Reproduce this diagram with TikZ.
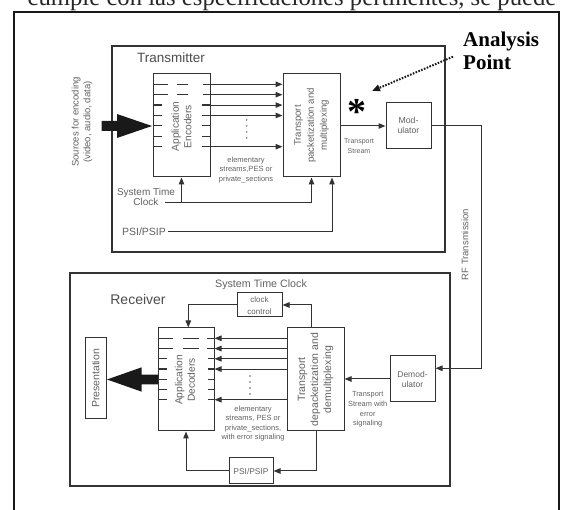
\documentclass[tikz,border=0pt]{standalone}
\usepackage{fontspec}
\setmainfont{Liberation Sans}
\newfontfamily\serifont{Liberation Serif}
\usetikzlibrary{arrows.meta}
\newcommand\fsz[2]{\fontsize{#1}{#2}\selectfont}
\definecolor{linec}{gray}{0.2}
\definecolor{txtc}{gray}{0.38}
\definecolor{framec}{gray}{0.1}
\tikzset{
 box/.style={draw=linec, line width=1pt, inner sep=0pt},
 grp/.style={draw=linec, line width=1.4pt, inner sep=0pt},
 lbl/.style={text=txtc, inner sep=0pt, align=center},
 arr/.style={draw=linec, line width=1pt, -{Triangle[length=7pt,width=5.5pt]}},
 conn/.style={draw=linec, line width=1pt},
 tickln/.style={draw=linec, line width=1.2pt}
}
\begin{document}
\begin{tikzpicture}[x=1pt,y=-1pt]
\useasboundingbox (0,0) rectangle (566,510);
\clip (0,0) rectangle (566,510);
% clipped top line of page text
\node[anchor=base, font=\serifont\fsz{24.7}{26}, text=black!85, inner sep=0pt] (toptext) at (292,5.5) {cumple con las especificaciones pertinentes, se puede};
% outer frame
\draw[framec, line width=2.5pt] (14,520) -- (14,12) -- (559,12) -- (559,520);

% ---------- Transmitter ----------
\node[grp, minimum width=333pt, minimum height=206pt] (tx) at (278.5,149) {};
\node[lbl, text=black!70, font=\fsz{13.5}{15}] (txl) at (171,58) {Transmitter};

\node[box, minimum width=57pt, minimum height=103pt] (enc) at (181.5,125.5) {};
\node[lbl, rotate=90, font=\fsz{10.2}{12.3}] (encl) at (181.5,126.5) {Application\\Encoders};
\node[box, minimum width=57pt, minimum height=103pt] (mux) at (311.5,125.5) {};
\node[lbl, rotate=90, font=\fsz{9.6}{13}] (muxl) at (311.5,125.5) {Transport\\packetization and\\multiplexing};
\node[box, minimum width=45pt, minimum height=46pt] (mod) at (408.5,126) {};
\node[lbl, font=\fsz{8.7}{10.7}] (modl) at (408.5,125.5) {Mod-\\ulator};

\node[lbl, rotate=90, font=\fsz{9.5}{11.7}] (src) at (82,122) {Sources for encoding\\(video, audio, data)};
\fill[framec] (101.5,121) -- (117,121) -- (117,114) -- (152,126) -- (117,138) -- (117,131) -- (101.5,131) -- cycle;

\foreach \y in {84.3,94.7}{\draw[tickln] (153,\y) -- (168,\y) (177,\y) -- (188,\y) (203,\y) -- (210,\y);}
\foreach \y in {105.1,115.5,125.9,136.3,146.7}{\draw[tickln] (153,\y) -- (162,\y) (202,\y) -- (210,\y);}
\foreach \y in {84.3,94.7,105.1,115.5,146.7}{\draw[arr] (enc.east |- 0,\y) -- (mux.west |- 0,\y);}
\foreach \y in {120,126,132,138}{\fill[txtc] (246.7,\y) circle (0.8pt);}
\node[lbl, font=\fsz{7.5}{9.6}] (esl) at (246,169.7) {elementary\\streams,PES or\\private\_sections};

\node[lbl, font=\fsz{10}{10}] (stc) at (146,197) {System Time\\Clock};
\coordinate (stcA) at (165,202.3);
\draw[arr] (stcA) -| (mux.south);
\draw[arr] (enc.south |- stcA) -- (enc.south);
\node[lbl, font=\fsz{10.5}{12}] (psil) at (144,231.7) {PSI/PSIP};
\coordinate (psiA) at (168,231.7);
\draw[arr] (psiA) -| ([xshift=20.5pt]mux.south);

\draw[arr] (mux.east |- mod.west) -- (mod.west);
\node[lbl, font=\fsz{7}{10}] (tsl) at (359,145.7) {Transport\\Stream};

% Analysis point
\node[anchor=base west, inner sep=0pt, font=\serifont\bfseries\fsz{21}{23}] (ap1) at (463,46.7) {Analysis};
\node[anchor=base west, inner sep=0pt, font=\serifont\bfseries\fsz{21}{23}] (ap2) at (463,69.3) {Point};
\coordinate (apS) at (453,56.7);
\coordinate (apT) at (372,91);
\draw[framec, line width=2pt, dash pattern=on 1.6pt off 1.4pt, -{Triangle[length=8pt,width=6.5pt]}] (apS) -- (apT);
\node[anchor=base, inner sep=0pt, font=\serifont\bfseries\fsz{38}{40}] (star) at (356.7,124.5) {*};

% RF link
\coordinate (rf1) at (481.7,126);
\coordinate (rf2) at (481.7,368.3);
\node[lbl, rotate=90, font=\fsz{9.5}{11}] (rfl) at (465,244.5) {RF Transmission};

% ---------- Receiver ----------
\node[grp, minimum width=380pt, minimum height=213pt] (rx) at (260,379.5) {};
\node[lbl, text=black!70, font=\fsz{14}{15}] (rxl) at (138,299.3) {Receiver};
\node[lbl, font=\fsz{10.7}{12}] (stc2) at (261,285) {System Time Clock};

\node[box, minimum width=45pt, minimum height=24pt] (cc) at (259.5,305) {};
\node[lbl, font=\fsz{8}{11.7}] (ccl) at (259.5,305.5) {clock\\control};
\node[box, minimum width=56pt, minimum height=103pt] (dec) at (186,379.5) {};
\node[lbl, rotate=90, font=\fsz{10.2}{12.3}] (decl) at (185,380) {Application\\Decoders};
\node[box, minimum width=57pt, minimum height=103pt] (demux) at (315.5,379.5) {};
\node[lbl, rotate=90, font=\fsz{10.5}{13}] (demuxl) at (315.5,379.5) {Transport\\depacketization and\\demultiplexing};
\node[box, minimum width=45pt, minimum height=46pt] (demod) at (412.5,379) {};
\node[lbl, font=\fsz{8.5}{10.3}] (demodl) at (412.5,379.2) {Demod-\\ulator};
\node[box, minimum width=44pt, minimum height=26pt] (psi) at (251,471) {};
\node[lbl, font=\fsz{8.4}{10}] (psibl) at (251,471) {PSI/PSIP};
\node[box, minimum width=21pt, minimum height=81pt] (pres) at (95.5,378.5) {};
\node[lbl, rotate=90, font=\fsz{10.5}{12}] (presl) at (95.5,378.5) {Presentation};

\fill[framec] (158,374.7) -- (141.7,374.7) -- (141.7,367.3) -- (107,379.5) -- (141.7,391.7) -- (141.7,384.3) -- (158,384.3) -- cycle;

\foreach \y in {338.3,348.6}{\draw[tickln] (158,\y) -- (173,\y) (183,\y) -- (199,\y) (207,\y) -- (214,\y);}
\foreach \y in {358.8,369.1,379.3,389.5,399.7}{\draw[tickln] (158,\y) -- (167,\y) (208,\y) -- (214,\y);}
\foreach \y in {338.3,348.6,358.8,369.1,399.7}{\draw[arr] (demux.west |- 0,\y) -- (dec.east |- 0,\y);}
\foreach \y in {376,382,388,394}{\fill[txtc] (250,\y) circle (0.8pt);}
\node[lbl, font=\fsz{7.5}{9.3}] (esl2) at (253,423.5) {elementary\\streams, PES or\\private\_sections,\\with error signaling};
\node[lbl, font=\fsz{7.4}{9.6}] (tsl2) at (367.7,409.6) {Transport\\Stream with\\error\\signaling};

\draw[arr] ([xshift=-3.8pt]demux.north) |- (cc.east);
\draw[arr] (cc.west) -| ([xshift=2.3pt]dec.north);
\draw[arr] ([xshift=1.2pt]demux.south) |- (psi.east);
\draw[arr] (psi.west) -| (dec.south);
\draw[arr] (demod.west) -- (demod.west -| demux.east);

\draw[arr] (mod.east) -- (rf1) -- (rf2) -- (rf2 -| demod.east);
\end{tikzpicture}
\end{document}
